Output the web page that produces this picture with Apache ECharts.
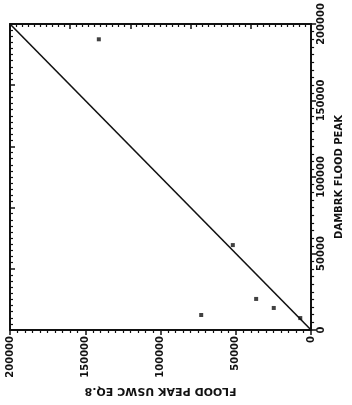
<!DOCTYPE html>
<html>
<head>
<meta charset="utf-8">
<script src="https://cdn.jsdelivr.net/npm/echarts@6/dist/echarts.min.js"></script>
<style>html,body{margin:0;padding:0;background:#fff;}#c{width:352px;height:405px;}</style>
</head>
<body>
<div id="c"></div>
<script>
// Data
var uswcPeak   = [141000, 52000, 73000, 36500, 24800, 7200];   // FLOOD PEAK USWC EQ.8
var dambrkPeak = [190000, 55500, 9800, 20300, 14400, 7800];    // DAMBRK FLOOD PEAK
var lineX = [0, 200000];
var lineY = [0, 200000];
var xTickLabels = ['0', '50000', '100000', '150000', '200000'];
var yTickLabels = ['0', '50000', '100000', '150000', '200000'];

var points = uswcPeak.map(function (v, i) { return [v, dambrkPeak[i]]; });
var linePts = lineX.map(function (v, i) { return [v, lineY[i]]; });

var font = 'DejaVu Sans';
var black = '#111';
function lbl(list) {
  return function (v) { var i = Math.round(v / 50000); return list[i] !== undefined ? list[i] : ''; };
}

var chart = echarts.init(document.getElementById('c'), null, {renderer: 'canvas'});
chart.setOption({
  animation: false,
  backgroundColor: '#fff',
  grid: {left: 10, right: 35, top: 24, bottom: 75, containLabel: false},
  xAxis: [{
    type: 'value', min: 0, max: 200000, interval: 50000, inverse: true, position: 'bottom',
    axisLine: {show: true, onZero: false, lineStyle: {color: black, width: 2}},
    axisTick: {show: true, inside: false, length: 5, lineStyle: {color: black, width: 1.5}},
    minorTick: {show: true, splitNumber: 10, length: 3, lineStyle: {color: black, width: 1.2}},
    splitLine: {show: false},
    axisLabel: {rotate: 90, margin: 6, color: black, fontFamily: font, fontWeight: 'bold', fontSize: 10, formatter: lbl(xTickLabels)},
    name: 'FLOOD PEAK USWC EQ.8', nameLocation: 'middle', nameGap: 55, nameRotate: 180,
    nameTextStyle: {color: black, fontFamily: font, fontWeight: 'bold', fontSize: 11}
  }, {
    type: 'value', min: 0, max: 200000, interval: 40000, inverse: true, position: 'top',
    axisLine: {show: true, onZero: false, lineStyle: {color: black, width: 2}},
    axisTick: {show: true, inside: true, length: 5, lineStyle: {color: black, width: 1.5}},
    minorTick: {show: true, splitNumber: 10, length: 3, lineStyle: {color: black, width: 1.2}},
    splitLine: {show: false},
    axisLabel: {show: false}
  }],
  yAxis: [{
    type: 'value', min: 0, max: 200000, interval: 50000, position: 'right',
    axisLine: {show: true, onZero: false, lineStyle: {color: black, width: 2}},
    axisTick: {show: true, inside: false, length: 5, lineStyle: {color: black, width: 1.5}},
    minorTick: {show: true, splitNumber: 10, length: 3, lineStyle: {color: black, width: 1.2}},
    splitLine: {show: false},
    axisLabel: {rotate: 90, margin: 5, color: black, fontFamily: font, fontWeight: 'bold', fontSize: 10, formatter: lbl(yTickLabels)},
    name: 'DAMBRK FLOOD PEAK', nameLocation: 'middle', nameGap: 18, nameRotate: 90,
    nameTextStyle: {color: black, fontFamily: font, fontWeight: 'bold', fontSize: 10}
  }, {
    type: 'value', min: 0, max: 200000, interval: 40000, position: 'left',
    axisLine: {show: true, onZero: false, lineStyle: {color: black, width: 2}},
    axisTick: {show: true, inside: true, length: 5, lineStyle: {color: black, width: 1.5}},
    minorTick: {show: true, splitNumber: 10, length: 3, lineStyle: {color: black, width: 1.2}},
    splitLine: {show: false},
    axisLabel: {show: false}
  }],
  series: [{
    type: 'line', xAxisIndex: 0, yAxisIndex: 0, data: linePts, showSymbol: false, symbol: 'none',
    lineStyle: {color: black, width: 1.6}, silent: true
  }, {
    type: 'scatter', xAxisIndex: 0, yAxisIndex: 0, data: points, symbol: 'rect', symbolSize: 4,
    itemStyle: {color: black}
  }]
});
</script>
</body>
</html>
